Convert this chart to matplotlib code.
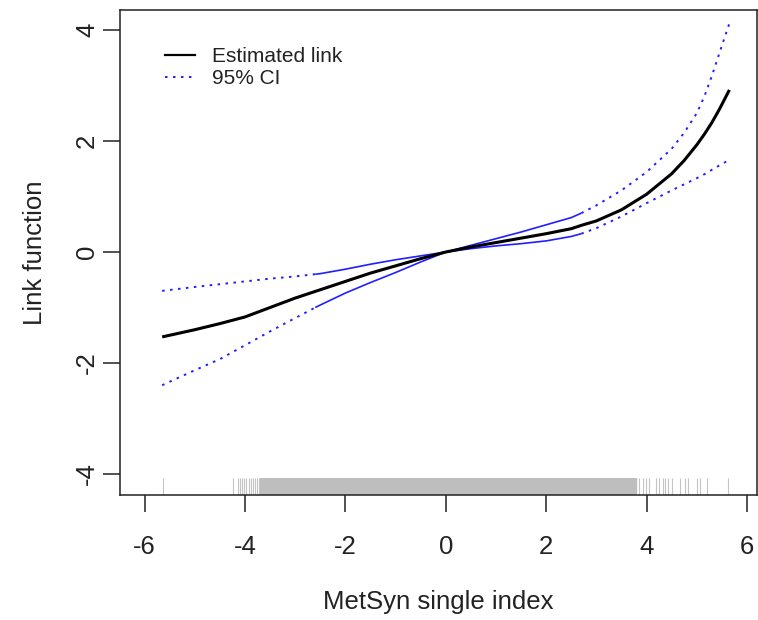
import matplotlib
matplotlib.use("Agg")
import matplotlib.pyplot as plt

# ---------------- data ----------------
x_grid = [-5.65, -5.0, -4.5, -4.0, -3.5, -3.0, -2.6, -2.5, -2.0, -1.5, -1.0, -0.5, 0.0,
          0.5, 1.0, 1.5, 2.0, 2.5, 2.7, 3.0, 3.5, 4.0, 4.5, 4.75, 5.0, 5.15, 5.3, 5.45, 5.65]
est_link = [-1.53, -1.40, -1.29, -1.17, -1.00, -0.83, -0.71, -0.68, -0.53, -0.38, -0.25, -0.12, 0.0,
            0.09, 0.17, 0.25, 0.33, 0.42, 0.48, 0.56, 0.76, 1.04, 1.41, 1.65, 1.93, 2.12, 2.33, 2.57, 2.92]
ci_upper = [-0.70, -0.63, -0.58, -0.53, -0.48, -0.44, -0.40, -0.39, -0.31, -0.22, -0.14, -0.07, 0.0,
            0.12, 0.24, 0.36, 0.49, 0.62, 0.70, 0.84, 1.11, 1.44, 1.86, 2.15, 2.50, 2.80, 3.17, 3.58, 4.12]
ci_lower = [-2.40, -2.13, -1.93, -1.68, -1.43, -1.19, -1.00, -0.955, -0.74, -0.55, -0.37, -0.18, 0.0,
            0.06, 0.11, 0.15, 0.20, 0.28, 0.33, 0.43, 0.64, 0.88, 1.11, 1.22, 1.33, 1.40, 1.48, 1.56, 1.66]
ci_solid_from = -2.6
ci_solid_to = 2.7

rug_sparse = [-5.63, -4.23, -4.14, -4.10, -4.06, -4.02, -3.98, -3.93, -3.88, -3.84, -3.80, -3.76, -3.72,
              3.84, 3.92, 3.98, 4.04, 4.18, 4.24, 4.32, 4.37, 4.43, 4.51, 4.67, 4.77, 4.83,
              5.01, 5.07, 5.21, 5.63]
rug_dense = [-3.65, -3.55, -3.45, -3.35, -3.25, -3.15, -3.05, -2.95, -2.85, -2.75, -2.65, -2.55,
             -2.45, -2.35, -2.25, -2.15, -2.05, -1.95, -1.85, -1.75, -1.65, -1.55, -1.45, -1.35,
             -1.25, -1.15, -1.05, -0.95, -0.85, -0.75, -0.65, -0.55, -0.45, -0.35, -0.25, -0.15,
             -0.05, 0.05, 0.15, 0.25, 0.35, 0.45, 0.55, 0.65, 0.75, 0.85, 0.95, 1.05, 1.15, 1.25,
             1.35, 1.45, 1.55, 1.65, 1.75, 1.85, 1.95, 2.05, 2.15, 2.25, 2.35, 2.45, 2.55, 2.65,
             2.75, 2.85, 2.95, 3.05, 3.15, 3.25, 3.35, 3.45, 3.55, 3.65, 3.75]

x_ticks = [-6, -4, -2, 0, 2, 4, 6]
y_ticks = [-4, -2, 0, 2, 4]
x_label = "MetSyn single index"
y_label = "Link function"
legend_labels = ["Estimated link", "95% CI"]

plt.rcParams["font.family"] = ["Liberation Sans", "DejaVu Sans"]

# ---------------- figure ----------------
fig = plt.figure(figsize=(7.58, 6.2), dpi=100)
ax = fig.add_axes([120 / 758, 1 - 495 / 620, (757 - 120) / 758, (495 - 10) / 620])

blue = "#1f1fff"
dot = (0, (1.3, 2.8))
txt = "#222222"

solid_idx = [i for i, v in enumerate(x_grid) if ci_solid_from <= v <= ci_solid_to]
left_idx = [i for i, v in enumerate(x_grid) if v <= ci_solid_from]
right_idx = [i for i, v in enumerate(x_grid) if v >= ci_solid_to]

for ci in (ci_upper, ci_lower):
    ax.plot([x_grid[i] for i in solid_idx], [ci[i] for i in solid_idx], color=blue, lw=1.2,
            solid_capstyle="butt", solid_joinstyle="round")
    for idx in (left_idx, right_idx):
        ax.plot([x_grid[i] for i in idx], [ci[i] for i in idx], color=blue, lw=1.4,
                linestyle=dot, dash_capstyle="butt")

ax.plot(x_grid, est_link, color="black", lw=2.2, solid_capstyle="butt", solid_joinstyle="round")

# rug
tr = ax.get_xaxis_transform()
ax.vlines(rug_dense, 0, 0.035, transform=tr, colors="#bebebe", lw=4.6)
ax.vlines(rug_sparse, 0, 0.035, transform=tr, colors="#c4c4c4", lw=0.8)

ax.set_xlim(-6.49, 6.2)
ax.set_ylim(-4.378, 4.36)
ax.set_xticks(x_ticks)
ax.set_yticks(y_ticks)
ax.set_xticklabels([str(v) for v in x_ticks])
ax.set_yticklabels([str(v) for v in y_ticks], rotation=90, va="center")

for s in ax.spines.values():
    s.set_linewidth(1.1)
    s.set_color(txt)
ax.tick_params(axis="both", direction="out", length=12, width=1.1, color=txt,
               labelsize=18.5, labelcolor=txt)
ax.tick_params(axis="x", pad=17)
ax.tick_params(axis="y", pad=3)

ax.set_xlabel(x_label, fontsize=18.5, color=txt, labelpad=22)
ax.set_ylabel(y_label, fontsize=18.5, color=txt, labelpad=20)

h1, = ax.plot([], [], color="black", lw=1.6)
h2, = ax.plot([], [], color=blue, lw=1.4, linestyle=dot)
ax.legend([h1, h2], legend_labels, loc="upper left", bbox_to_anchor=(0.057, 0.941),
          frameon=False, fontsize=15, handlelength=1.45, handletextpad=0.8,
          labelspacing=0.15, borderaxespad=0, labelcolor=txt)

fig.savefig("out.png", dpi=100)
